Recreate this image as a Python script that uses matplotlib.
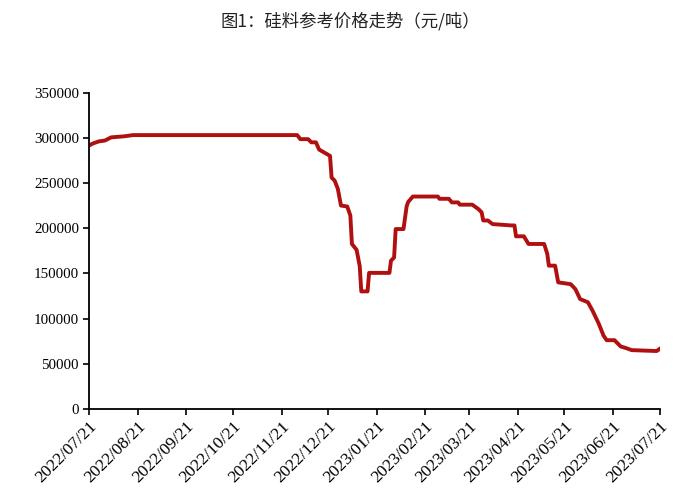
import numpy as np
import pandas as pd
import matplotlib
matplotlib.use('Agg')
import matplotlib.pyplot as plt
import matplotlib.dates as mdates

matplotlib.rcParams['axes.unicode_minus'] = False

# 硅料参考价格 (元/吨), 图上读取的拐点
dates = [
    '2022-07-21', '2022-07-23', '2022-07-27', '2022-07-31', '2022-08-04', '2022-08-12',
    '2022-08-18', '2022-12-01', '2022-12-03', '2022-12-08', '2022-12-10', '2022-12-13',
    '2022-12-15', '2022-12-18', '2022-12-22', '2022-12-23', '2022-12-25', '2022-12-27',
    '2022-12-29', '2023-01-02', '2023-01-04', '2023-01-05', '2023-01-08', '2023-01-10',
    '2023-01-11', '2023-01-15', '2023-01-16', '2023-01-29', '2023-01-30', '2023-02-01',
    '2023-02-02', '2023-02-07', '2023-02-09', '2023-02-10', '2023-02-13', '2023-03-01',
    '2023-03-02', '2023-03-08', '2023-03-10', '2023-03-14', '2023-03-15', '2023-03-23',
    '2023-03-27', '2023-03-29', '2023-03-30', '2023-04-02', '2023-04-05', '2023-04-17',
    '2023-04-19', '2023-04-20', '2023-04-25', '2023-04-28', '2023-05-08', '2023-05-10',
    '2023-05-11', '2023-05-15', '2023-05-17', '2023-05-25', '2023-05-28', '2023-05-31',
    '2023-06-05', '2023-06-08', '2023-06-12', '2023-06-15', '2023-06-17', '2023-06-22',
    '2023-06-26', '2023-06-29', '2023-07-03', '2023-07-19', '2023-07-21',
]
price = [
    291500, 293500, 296000, 297000, 300500, 301600,
    303000, 303000, 298500, 298500, 295000, 295000,
    287000, 284000, 280000, 256000, 252500, 243500,
    225000, 224000, 214000, 182500, 176000, 158000,
    130000, 130000, 150500, 150500, 164000, 167500,
    199000, 199000, 224000, 229000, 235000, 235000,
    232500, 232500, 228500, 228500, 226000, 226000,
    221000, 217500, 208500, 208500, 204500, 203000,
    203000, 191000, 191000, 182500, 182500, 171500,
    158500, 158500, 140000, 138000, 132500, 121500,
    118000, 108500, 94000, 81000, 76000, 76000,
    69000, 67500, 65000, 64000, 66500,
]

tick_dates = [
    '2022-07-21', '2022-08-21', '2022-09-21', '2022-10-21', '2022-11-21', '2022-12-21',
    '2023-01-21', '2023-02-21', '2023-03-21', '2023-04-21', '2023-05-21', '2023-06-21',
    '2023-07-21',
]
yticks = np.arange(0, 350001, 50000)

x = pd.to_datetime(dates)

fig = plt.figure(figsize=(7, 4.98), dpi=100)
ax = fig.add_axes([0.1276, 0.179, 0.8150, 0.635])

ax.plot(x, price, color='#B01010', lw=2.8, solid_joinstyle='round')

ax.set_xlim(pd.Timestamp('2022-07-21'), pd.Timestamp('2023-07-21'))
ax.set_ylim(0, 350000)
ax.set_yticks(yticks)
ax.set_xticks(pd.to_datetime(tick_dates))
ax.xaxis.set_major_formatter(mdates.DateFormatter('%Y/%m/%d'))

for s in ['top', 'right']:
    ax.spines[s].set_visible(False)
for s in ['left', 'bottom']:
    ax.spines[s].set_linewidth(1.3)
    ax.spines[s].set_color('black')

ax.tick_params(axis='both', direction='out', length=4, width=1.2, colors='black')
ax.tick_params(axis='x', pad=3)
for lab in ax.get_yticklabels():
    lab.set_fontfamily('Liberation Serif')
    lab.set_fontsize(10.8)
for lab in ax.get_xticklabels():
    lab.set_fontfamily('Liberation Serif')
    lab.set_fontsize(12.5)
    lab.set_rotation(45)
    lab.set_ha('right')
    lab.set_rotation_mode('anchor')

fig.text(0.5, 0.958, '图1：硅料参考价格走势（元/吨）', ha='center', va='center',
         fontsize=12.5, color='#222222', family=['Noto Sans CJK SC', 'DejaVu Sans'])

fig.savefig('out.png', dpi=100, facecolor='white')
